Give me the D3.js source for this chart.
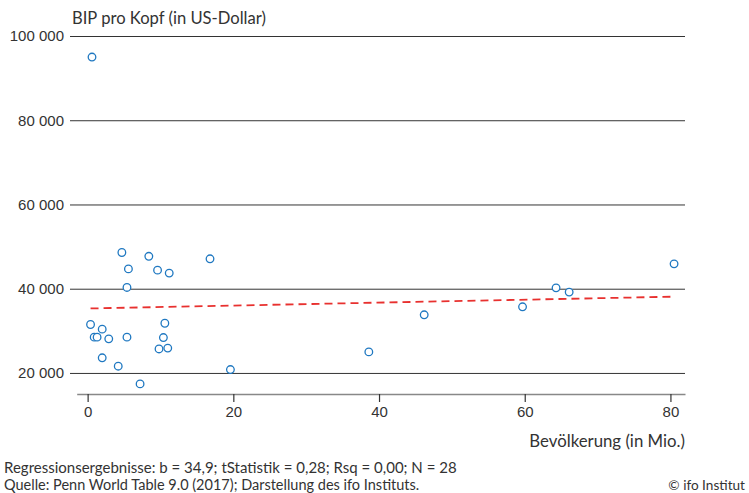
<!DOCTYPE html>
<html>
<head>
<meta charset="utf-8">
<script src="https://cdn.jsdelivr.net/npm/d3@7"></script>
<style>
  body { margin: 0; background: #fff; }
  svg { display: block; font-family: Lato, "Noto Sans", sans-serif; }
  .grid line { stroke: #333; stroke-width: 1; }
  .tick text { fill: #333; font-size: 15px; }
  .label { fill: #333; }
</style>
</head>
<body>
<div id="chart"></div>
<script>
// Bevölkerung (Mio.) und BIP pro Kopf (US-Dollar), 28 Länder
const population = [0.6, 4.7, 8.4, 16.8, 5.6, 9.6, 11.2, 5.4, 0.4, 10.6,
  2.0, 0.9, 1.3, 2.9, 5.4, 10.4, 9.8, 11.0, 2.0, 4.2,
  19.6, 7.2, 38.6, 46.2, 59.7, 64.3, 66.1, 80.5];
const gdpPerCapita = [95000, 48600, 47700, 47100, 44700, 44400, 43700, 40300, 31500, 31800,
  30400, 28500, 28500, 28100, 28500, 28400, 25700, 25900, 23600, 21600,
  20800, 17400, 25000, 33800, 35700, 40200, 39200, 45900];
const yTicks = [20000, 40000, 60000, 80000, 100000];
const xTicks = [0, 20, 40, 60, 80];

// Regression: y = a + b * x
const intercept = 35300;
const slope = 34.9;

const width = 749, height = 493;
const plot = { left: 76.7, right: 685, top: 36, bottom: 394 };

const data = population.map((p, i) => ({ pop: p, gdp: gdpPerCapita[i] }));

const xScale = d3.scaleLinear().domain([-1.5, 82]).range([plot.left, plot.right]);
const yScale = d3.scaleLinear().domain([15000, 100000]).range([plot.bottom, plot.top]);

const svg = d3.select("#chart")
  .append("svg")
  .attr("width", width)
  .attr("height", height);

// Horizontal gridlines with labels
const yAxis = svg.append("g")
  .attr("class", "grid")
  .attr("transform", `translate(${plot.right},0)`)
  .call(d3.axisLeft(yScale).tickValues(yTicks).tickSize(plot.right - 70).tickPadding(6)
    .tickFormat((d) => d3.format(",")(d).replace(/,/g, " ")));
yAxis.select(".domain").remove();

// X axis
const xAxis = svg.append("g")
  .attr("transform", `translate(0,${plot.bottom})`)
  .call(d3.axisBottom(xScale).tickValues(xTicks).tickSizeInner(8).tickSizeOuter(0).tickPadding(4));
xAxis.select(".domain").attr("stroke", "#888").attr("stroke-width", 1.5);
xAxis.selectAll(".tick line").attr("stroke", "#333").attr("stroke-width", 1.2);

// Regression line
const xExt = d3.extent(population);
svg.append("path")
  .datum(xExt.map((x) => ({ x, y: intercept + slope * x })))
  .attr("fill", "none")
  .attr("stroke", "#e8312f")
  .attr("stroke-width", 1.8)
  .attr("stroke-dasharray", "8 5")
  .attr("d", d3.line().x((d) => xScale(d.x)).y((d) => yScale(d.y)));

// Points
svg.append("g")
  .selectAll("circle")
  .data(data)
  .enter()
  .append("circle")
  .attr("cx", (d) => xScale(d.pop))
  .attr("cy", (d) => yScale(d.gdp))
  .attr("r", 3.8)
  .attr("fill", "#fff")
  .attr("stroke", "#1f78c1")
  .attr("stroke-width", 1.3);

// Titles
svg.append("text")
  .attr("class", "label")
  .attr("x", 72).attr("y", 24)
  .style("font-size", "16.6px")
  .text("BIP pro Kopf (in US-Dollar)");

svg.append("text")
  .attr("class", "label")
  .attr("x", plot.right).attr("y", 447)
  .attr("text-anchor", "end")
  .style("font-size", "16.8px")
  .text("Bevölkerung (in Mio.)");

// Footer
svg.append("text")
  .attr("class", "label")
  .attr("x", 4).attr("y", 473)
  .style("font-size", "15px")
  .text("Regressionsergebnisse: b = 34,9; tStatistik = 0,28; Rsq = 0,00; N = 28");

svg.append("text")
  .attr("class", "label")
  .attr("x", 4).attr("y", 490)
  .style("font-size", "14.5px")
  .text("Quelle: Penn World Table 9.0 (2017); Darstellung des ifo Instituts.");

svg.append("text")
  .attr("class", "label")
  .attr("x", 745).attr("y", 490)
  .attr("text-anchor", "end")
  .style("font-size", "13.6px")
  .text("© ifo Institut");
</script>
</body>
</html>
